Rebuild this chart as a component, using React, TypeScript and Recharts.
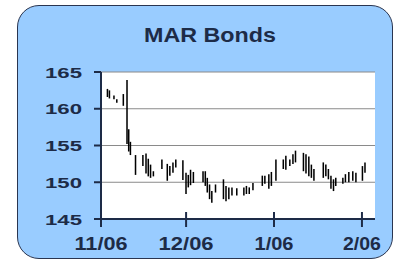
import React from "react";
import { Bar, CartesianGrid, ComposedChart, XAxis, YAxis } from "recharts";

// days since 11/06
const days = [
  2.3, 3.0, 4.6, 5.6, 7.9, 9.2, 9.8, 10.4, 12.2, 14.8, 15.9, 16.7, 17.5, 18.5, 21.5, 23.4, 24.3,
  25.4, 26.4, 28.9, 30.0, 30.8, 31.6, 32.6, 36.0, 36.8, 37.5, 38.3, 39.1, 40.4, 43.2, 44.1, 45.1,
  46.2, 47.9, 50.4, 51.3, 52.3, 53.6, 56.9, 57.8, 59.2, 60.1, 61.7, 64.3, 65.2, 66.6, 67.7, 68.6,
  71.4, 72.3, 73.3, 74.2, 75.1, 78.4, 79.3, 80.2, 81.1, 82.0, 82.8, 85.3, 86.2, 87.4, 88.8, 89.9,
  92.2, 93.1,
];
const highs = [
  162.7, 162.5, 161.8, 161.3, 162.0, 163.9, 157.2, 155.5, 153.7, 153.7, 153.9, 153.2, 152.4, 151.5,
  153.1, 152.5, 152.2, 152.7, 153.1, 153.0, 151.3, 151.0, 151.7, 151.4, 151.5, 151.5, 150.6, 149.7,
  148.8, 149.7, 150.4, 149.5, 149.3, 149.3, 149.2, 149.3, 149.5, 149.3, 149.9, 150.9, 150.9, 151.1,
  151.4, 153.1, 153.1, 153.6, 153.1, 153.8, 154.3, 154.0, 153.8, 153.5, 152.4, 151.8, 152.7, 152.4,
  151.8, 150.9, 150.4, 150.6, 150.6, 151.1, 151.4, 151.5, 151.3, 152.2, 152.7,
];
const lows = [
  161.6, 161.4, 161.3, 160.8, 160.4, 155.2, 154.2, 153.7, 151.0, 152.2, 151.2, 150.8, 150.6, 150.8,
  151.8, 150.2, 150.9, 151.3, 152.0, 150.3, 148.4, 149.3, 149.6, 149.9, 150.0, 149.5, 148.6, 147.7,
  147.2, 148.6, 147.7, 147.4, 147.7, 148.2, 148.2, 148.2, 148.4, 148.4, 148.9, 149.5, 149.8, 149.1,
  149.5, 150.2, 151.8, 151.7, 152.2, 152.5, 152.7, 151.5, 151.2, 150.8, 150.6, 150.2, 150.6, 150.8,
  150.4, 149.1, 148.8, 149.5, 149.8, 150.0, 150.0, 150.2, 150.0, 150.2, 151.3,
];

const tickDays = [0, 30, 61, 92];
const tickLabels = ["11/06", "12/06", "1/06", "2/06"];
const tickLabelWidths = [53, 55, 39, 38];
const yTicks = [145, 150, 155, 160, 165];

const data = days.map((d, i) => ({ day: d, range: [lows[i], highs[i]] }));

const NAVY = "#1d2b47";

function XTick(props: any) {
  const { x, y, payload, index } = props;
  const i = tickDays.indexOf(payload.value);
  const k = i >= 0 ? i : index;
  return (
    <g>
      <line x1={x} x2={x} y1={y - 7} y2={y + 8} stroke={NAVY} strokeWidth={2} />
      <text
        x={x}
        y={y + 31}
        textAnchor="middle"
        fontFamily="Liberation Sans, Arial, sans-serif"
        fontWeight="bold"
        fontSize={18}
        fill={NAVY}
        textLength={tickLabelWidths[k]}
        lengthAdjust="spacingAndGlyphs"
      >
        {tickLabels[k]}
      </text>
    </g>
  );
}

function YTick(props: any) {
  const { x, y, payload } = props;
  return (
    <g>
      <line x1={x - 7} x2={x} y1={y} y2={y} stroke={NAVY} strokeWidth={2} />
      <text
        x={x - 19}
        y={y + 5.5}
        textAnchor="end"
        fontFamily="Liberation Sans, Arial, sans-serif"
        fontWeight="bold"
        fontSize={15.5}
        fill={NAVY}
        textLength={37}
        lengthAdjust="spacingAndGlyphs"
      >
        {payload.value}
      </text>
    </g>
  );
}

export default function App() {
  return (
    <div
      style={{
        position: "absolute",
        left: 0,
        top: 0,
        width: 398,
        height: 259,
        background: "#ffffff",
        overflow: "hidden",
      }}
    >
      <div
        style={{
          position: "absolute",
          left: 17,
          top: 5,
          width: 374,
          height: 252,
          background: "#99ccff",
          border: "1.5px solid #2a3550",
          borderRadius: 22,
        }}
      />
      <svg style={{ position: "absolute", left: 0, top: 0 }} width={398} height={60}>
        <text
          x={210}
          y={42}
          textAnchor="middle"
          fontFamily="Liberation Sans, Arial, sans-serif"
          fontWeight="bold"
          fontSize={19.5}
          fill={NAVY}
          textLength={132}
          lengthAdjust="spacingAndGlyphs"
        >
          MAR Bonds
        </text>
      </svg>
      <div style={{ position: "absolute", left: 0, top: 0 }}>
        <ComposedChart
          width={398}
          height={259}
          data={data}
          margin={{ top: 72, right: 23, bottom: 0, left: 0 }}
        >
          <CartesianGrid fill="#ffffff" vertical={false} stroke="#8a8a8a" strokeWidth={1} />
          <XAxis
            dataKey="day"
            type="number"
            domain={[0, 96.6]}
            ticks={tickDays}
            allowDataOverflow
            interval={0}
            height={40}
            tickSize={0}
            tickMargin={0}
            tickLine={false}
            axisLine={{ stroke: NAVY, strokeWidth: 2 }}
            tick={<XTick />}
          />
          <XAxis
            xAxisId="top"
            orientation="top"
            type="number"
            domain={[0, 96.6]}
            height={0}
            tick={false}
            tickLine={false}
            axisLine={{ stroke: NAVY, strokeWidth: 2 }}
          />
          <YAxis
            type="number"
            domain={[145, 165]}
            ticks={yTicks}
            allowDataOverflow
            interval={0}
            width={101}
            tickSize={0}
            tickMargin={0}
            tickLine={false}
            axisLine={{ stroke: NAVY, strokeWidth: 2 }}
            tick={<YTick />}
          />
          <YAxis
            yAxisId="right"
            orientation="right"
            domain={[145, 165]}
            width={0}
            tick={false}
            tickLine={false}
            axisLine={{ stroke: NAVY, strokeWidth: 2 }}
          />
          <Bar dataKey="range" fill="#000000" barSize={2.8} isAnimationActive={false} />
        </ComposedChart>
      </div>
    </div>
  );
}
